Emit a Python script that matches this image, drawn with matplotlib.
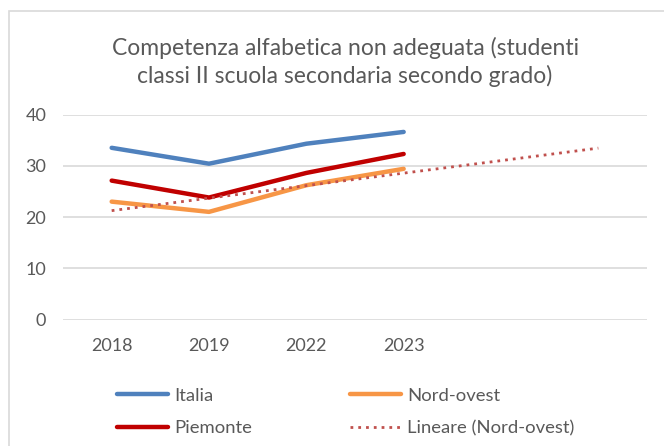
import numpy as np
import matplotlib.pyplot as plt
from matplotlib.lines import Line2D
from matplotlib.patches import Rectangle

anni = ['2018', '2019', '2022', '2023']
italia = [33.5, 30.4, 34.3, 36.6]
nord_ovest = [23.0, 21.0, 26.2, 29.4]
piemonte = [27.1, 23.8, 28.6, 32.3]
periodi_previsione = 2

plt.rcParams['font.family'] = ['Lato', 'DejaVu Sans']
grigio = '#595959'

fig = plt.figure(figsize=(6.64, 4.46), dpi=100)
fig.patches.append(Rectangle((9 / 664, -0.1), 1.2, 1 - 11 / 446 + 0.1,
                             transform=fig.transFigure, fill=False,
                             edgecolor='#d9d9d9', linewidth=1.2))

ax = fig.add_axes([63 / 664, 1 - 319.5 / 446, 584 / 664, 205 / 446])

x = np.arange(len(anni))
ax.plot(x, italia, color='#4F81BD', lw=3.2, solid_capstyle='round', zorder=3)
ax.plot(x, nord_ovest, color='#F79646', lw=3.2, solid_capstyle='round', zorder=3)
ax.plot(x, piemonte, color='#C00000', lw=3.2, solid_capstyle='round', zorder=3)

# linea di tendenza lineare su Nord-ovest, estesa in avanti
coef = np.polyfit(x + 1, nord_ovest, 1)
xt = np.arange(len(anni) + periodi_previsione)
ax.plot(xt, np.polyval(coef, xt + 1), color='#C0504D', lw=2, ls=(0, (1, 1.8)), zorder=4)

ax.set_xlim(-0.5, len(anni) + periodi_previsione - 0.5)
ax.set_ylim(0, 40)
ax.set_yticks([0, 10, 20, 30, 40])
ax.set_xticks(x)
ax.set_xticklabels(anni)
ax.grid(axis='y', color='#d9d9d9', lw=1.2)
ax.set_axisbelow(True)
for s in ax.spines.values():
    s.set_visible(False)
ax.tick_params(length=0, labelsize=13, colors=grigio)
ax.tick_params(axis='x', pad=13)
ax.tick_params(axis='y', pad=12)

fig.text(345 / 664, 1 - 62 / 446, 'Competenza alfabetica non adeguata (studenti\nclassi II scuola secondaria secondo grado)',
         ha='center', va='center', fontsize=16.5, color=grigio, linespacing=1.35)

handles = [
    Line2D([], [], color='#4F81BD', lw=3.2, solid_capstyle='round'),
    Line2D([], [], color='#C00000', lw=3.2, solid_capstyle='round'),
    Line2D([], [], color='#F79646', lw=3.2, solid_capstyle='round'),
    Line2D([], [], color='#C0504D', lw=2, ls=(0, (1, 1.8))),
]
labels = ['Italia', 'Piemonte', 'Nord-ovest', 'Lineare (Nord-ovest)']
leg = fig.legend(handles, labels, ncol=2, loc='upper left',
                 bbox_to_anchor=(100 / 664, 1 - 371 / 446), frameon=False,
                 fontsize=13.3, handlelength=2.8, handletextpad=0.3,
                 columnspacing=5.3, labelspacing=0.9)
for t in leg.get_texts():
    t.set_color(grigio)

fig.savefig('out.png', dpi=100)
